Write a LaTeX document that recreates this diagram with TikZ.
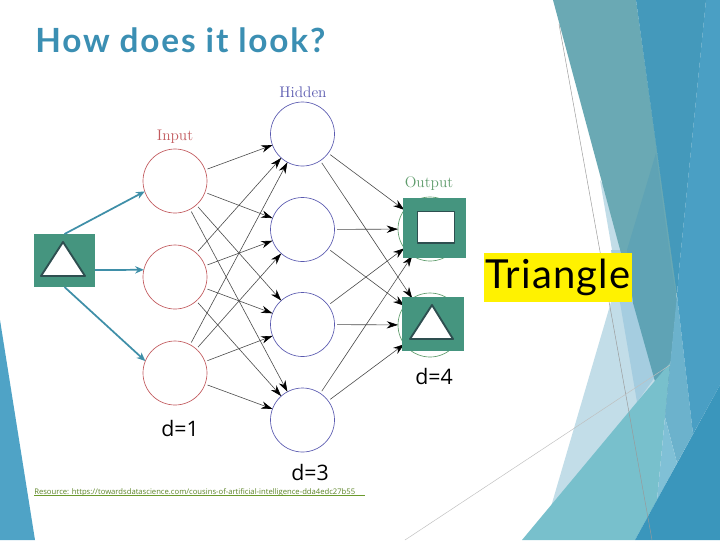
\documentclass[tikz,border=0pt]{standalone}
\usepackage{fontspec}
\newfontfamily\latofont[LetterSpace=3]{Lato}
\newfontfamily\ttlfont[LetterSpace=5.5]{Lato}
\newfontfamily\lblfont{Open Sans}
\usetikzlibrary{arrows.meta}
\definecolor{sqgreen}{HTML}{45957F}
\definecolor{sqdark}{HTML}{2E4F50}
\definecolor{ttl}{HTML}{3B8FB3}
\definecolor{arrowblue}{HTML}{3F8FA8}
\definecolor{inred}{HTML}{C25A5E}
\definecolor{hidblue}{HTML}{5A5AB0}
\definecolor{outgreen}{HTML}{5F9C6C}
\definecolor{resgreen}{HTML}{6B9A2C}
\definecolor{fa}{HTML}{4FA3C6}
\definecolor{fb}{HTML}{C2DDE8}
\definecolor{fc}{HTML}{A5CDE0}
\definecolor{fd}{HTML}{6AA9B4}
\definecolor{fe}{HTML}{5FA3B5}
\definecolor{ff}{HTML}{4499BB}
\definecolor{fg}{HTML}{78C0CC}
\definecolor{fh}{HTML}{6CB2CC}
\definecolor{fi}{HTML}{80C0D6}
\definecolor{fj}{HTML}{4A9FC4}
\definecolor{fk}{HTML}{3A96BC}
\tikzset{
  neuron/.style={circle,draw=#1,line width=0.5pt,minimum size=48pt,inner sep=0pt,outer sep=0pt,fill=white},
  link/.style={draw=black!70,line width=0.45pt,shorten <=2pt,-{Stealth[length=8.5pt,width=5.5pt,color=black]}},
  feed/.style={draw=arrowblue,line width=1.3pt,-{Stealth[length=6.5pt,width=5.5pt]}},
  tile/.style={fill=sqgreen,draw=none,inner sep=0pt,outer sep=0pt},
  glyph/.style={fill=white,draw=sqdark,line width=1.4pt,line join=round},
  head/.style={font=\rmfamily\fontsize{11.5pt}{13pt}\selectfont,inner sep=0pt},
  dlabel/.style={font=\lblfont\fontsize{16pt}{18pt}\selectfont,inner sep=0pt,text=black},
  hairline/.style={draw=black!40,line width=0.35pt},
}
\begin{document}
\begin{tikzpicture}[x=0.75pt,y=-0.75pt]
\useasboundingbox (0,0) rectangle (720,540);
\fill[white] (0,0) rectangle (720,540);
% background facets
\fill[fa] (0,320) -- (35,540) -- (0,540) -- cycle;
\fill[fb] (600,180) -- (612,250) -- (616,285) -- (550,510) -- (650,510) -- (677,300) -- cycle;
\fill[fc] (611,250) -- (645,250) -- (660,370) -- (637,402) -- cycle;
\fill[fd] (553,0) -- (636,0) -- (677,290) -- (665,417) -- cycle;
\fill[fe] (656,153) -- (672,270) -- (677,300) -- (665,417) -- (633,303) -- (627,250) -- cycle;
\fill[fg] (522,540) -- (637,402) -- (670,363) -- (665,417) -- (657,500) -- (635,540) -- cycle;
\fill[fh] (677,295) -- (693,434) -- (677,463) -- (665,417) -- cycle;
\fill[fi] (665,417) -- (677,463) -- (657,500) -- cycle;
\fill[fj] (706,0) -- (720,0) -- (720,385) -- (693,434) -- (677,295) -- (679,270) -- cycle;
\fill[ff] (636,0) -- (706,0) -- (679,270) -- (677,295) -- cycle;
\fill[fk] (635,540) -- (720,385) -- (720,540) -- cycle;
\draw[hairline] (559,24) -- (652,540);
\draw[hairline,draw=black!25] (405,540) -- (670,365);
% neurons
\node[neuron=inred] (i1) at (175,181) {};
\node[neuron=inred] (i2) at (175,277) {};
\node[neuron=inred] (i3) at (175,373) {};
\node[neuron=hidblue] (h1) at (302.5,134) {};
\node[neuron=hidblue] (h2) at (302.5,229.5) {};
\node[neuron=hidblue] (h3) at (302.5,324.5) {};
\node[neuron=hidblue] (h4) at (302.5,420) {};
\node[neuron=outgreen] (o1) at (430,229) {};
\node[neuron=outgreen] (o2) at (430,325) {};
\foreach \a in {i1,i2,i3}{\foreach \b in {h1,h2,h3,h4}{\draw[link] (\a) -- (\b);}}
\foreach \a in {h1,h2,h3,h4}{\foreach \b in {o1,o2}{\draw[link] (\a) -- (\b);}}
\node[head,text=inred] (lin) at (175,137) {Input};
\node[head,text=hidblue] (lhid) at (303,92) {Hidden};
\node[head,text=outgreen] (lout) at (429,184) {Output};
% tiles
\node[tile,minimum width=47.25pt,minimum height=45pt] (so) at (434.5,228) {};
\draw[glyph] (417.5,211.5) rectangle (454.5,243);
\node[tile,minimum width=46.5pt,minimum height=40.5pt] (st) at (433,324) {};
\draw[glyph] (432,305) -- (453,339) -- (410,339) -- cycle;
\node[tile,minimum width=45.75pt,minimum height=39.75pt] (src) at (64.5,260.5) {};
\draw[glyph] (63,242) -- (85,276) -- (41,276) -- cycle;
\coordinate (srcout) at (95,270);
\draw[feed] (src.north) -- (i1.199);
\draw[feed] (srcout) -- (i2.167);
\draw[feed] (src.south) -- (i3.158);
% labels
\node[anchor=base west,inner sep=0pt,text=ttl,font=\ttlfont\bfseries\fontsize{25pt}{28pt}\selectfont] (title) at (35,52) {How does it look?};
\node[fill=yellow,minimum width=111pt,minimum height=36.75pt,inner sep=0pt,font=\latofont\fontsize{30pt}{32pt}\selectfont] (ans) at (558,277.5) {\raisebox{-1.5pt}{Triangle}};
\node[dlabel] (d4) at (434,376) {d=4};
\node[dlabel] (d1) at (180,428) {d=1};
\node[dlabel] (d3) at (310,472) {d=3};
\node[anchor=base west,inner sep=0pt,text=resgreen!85!black,font=\lblfont\fontsize{5.75pt}{6pt}\selectfont] (res) at (34,494) {Resource: https://towardsdatascience.com/cousins-of-artificial-intelligence-dda4edc27b55};
\draw[draw=resgreen,line width=1pt] (34,495.5) -- (365,495.5);
\end{tikzpicture}
\end{document}
